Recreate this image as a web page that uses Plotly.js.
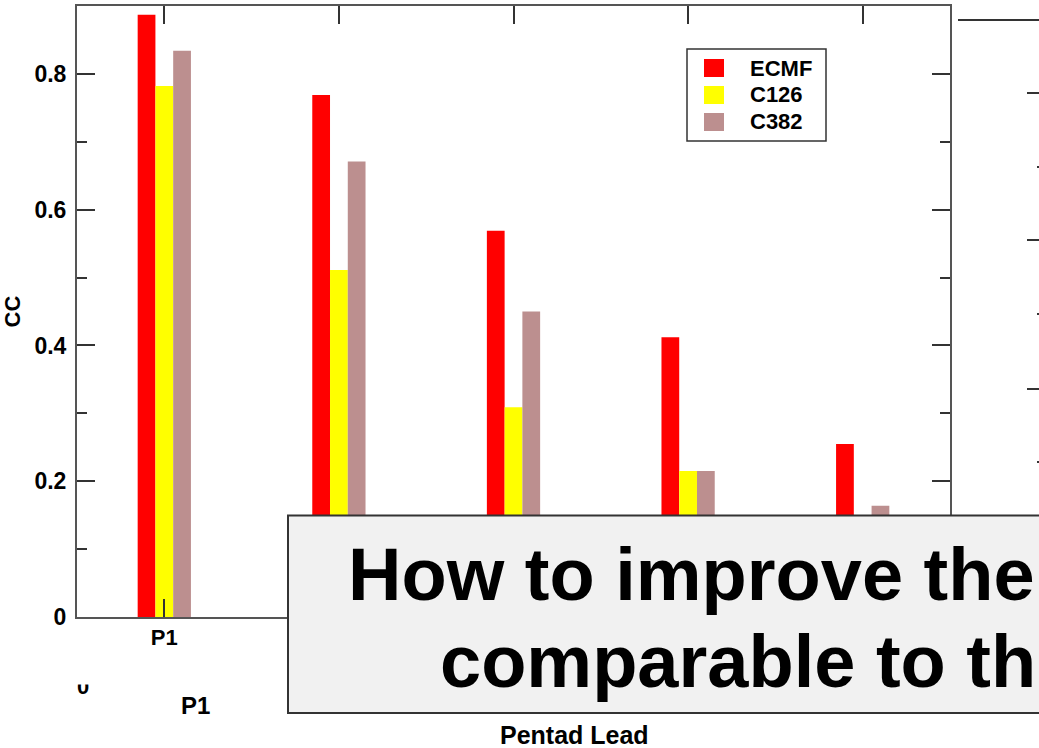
<!DOCTYPE html>
<html>
<head>
<meta charset="utf-8">
<script src="https://cdn.plot.ly/plotly-3.0.1.min.js"></script>
<style>
  html, body { margin: 0; padding: 0; background: #ffffff; }
  #chart { width: 1039px; height: 748px; }
</style>
</head>
<body>
<div id="chart"></div>
<script>
// Correlation coefficient (CC) by pentad lead for three forecast systems
const categories = ['P1', 'P2', 'P3', 'P4', 'P5'];
const ecmf = [0.887, 0.769, 0.569, 0.412, 0.255];
const c126 = [0.782, 0.511, 0.309, 0.215, 0.12];
const c382 = [0.834, 0.671, 0.450, 0.215, 0.164];
const seriesNames = ['ECMF', 'C126', 'C382'];
const seriesValues = [ecmf, c126, c382];
const seriesColors = ['#ff0000', '#ffff00', '#bc8f8f'];
const yTickValues = [0, 0.2, 0.4, 0.6, 0.8];
const yTickLabels = ['0', '0.2', '0.4', '0.6', '0.8'];
// only the first lead label sits outside the caption panel
const xTickLabels = ['P1', '', '', '', ''];
const yTitle = 'CC';
const xTitle = 'Pentad Lead';
const noteLines = ['How to improve the', 'comparable to th'];
const backLabels = ['P1', '0'];

// Plot-area edges in pixels, used to place the overlay pieces in paper units
const W = 1039, H = 748;
const L = 77, R = 950, T = 6, B = 617;
const px = x => (x - L) / (R - L);
const py = y => (B - y) / (B - T);

const FONT = 'Liberation Sans, Arial, Helvetica, sans-serif';
const bold = (size, color) => ({ family: FONT, size: size, color: color || '#000', weight: 'bold' });

const traces = seriesNames.map((name, i) => ({
  type: 'bar',
  name: name,
  x: categories,
  y: seriesValues[i],
  marker: { color: seriesColors[i], line: { width: 0 } },
  showlegend: false,
  hoverinfo: 'x+y+name'
}));

const shapes = [];
const annotations = [];

// Legend panel
shapes.push({
  type: 'rect', xref: 'paper', yref: 'paper', layer: 'above',
  x0: px(687), x1: px(826), y0: py(49), y1: py(141),
  fillcolor: '#ffffff', line: { color: '#333333', width: 1.5 }
});
seriesNames.forEach((name, i) => {
  const yc = 68 + i * 27;
  shapes.push({
    type: 'rect', xref: 'paper', yref: 'paper', layer: 'above',
    x0: px(704), x1: px(724), y0: py(yc - 9), y1: py(yc + 9),
    fillcolor: seriesColors[i], line: { width: 0 }
  });
  annotations.push({
    xref: 'paper', yref: 'paper', x: px(748), y: py(yc),
    xanchor: 'left', yanchor: 'middle', showarrow: false,
    text: name, font: bold(22)
  });
});

// Neighbouring panel on the right: its top frame and left-side ticks
shapes.push({
  type: 'line', xref: 'paper', yref: 'paper', layer: 'above',
  x0: px(958), x1: px(1045), y0: py(20), y1: py(20),
  line: { color: '#333333', width: 2 }
});
[93, 167, 240, 314, 389, 462].forEach((y, i) => {
  shapes.push({
    type: 'line', xref: 'paper', yref: 'paper', layer: 'above',
    x0: px(i % 2 === 0 ? 1027 : 1037), x1: px(1045), y0: py(y), y1: py(y),
    line: { color: '#333333', width: 2 }
  });
});

// Labels from the panel underneath
annotations.push({
  xref: 'paper', yref: 'paper', x: px(83), y: py(686),
  xanchor: 'center', yanchor: 'middle', showarrow: false,
  text: backLabels[1], font: bold(22)
});
annotations.push({
  xref: 'paper', yref: 'paper', x: px(83), y: py(676),
  xanchor: 'center', yanchor: 'middle', showarrow: false,
  text: ' ', width: 24, height: 16, bgcolor: '#ffffff', borderpad: 0
});
annotations.push({
  xref: 'paper', yref: 'paper', x: px(195), y: py(705),
  xanchor: 'center', yanchor: 'middle', showarrow: false,
  text: backLabels[0], font: bold(24)
});
annotations.push({
  xref: 'paper', yref: 'paper', x: px(574), y: py(735),
  xanchor: 'center', yanchor: 'middle', showarrow: false,
  text: xTitle, font: bold(25)
});

// Caption panel over the lower part of the chart
shapes.push({
  type: 'rect', xref: 'paper', yref: 'paper', layer: 'above',
  x0: px(288), x1: px(1060), y0: py(515.5), y1: py(713),
  fillcolor: '#f1f1f1', line: { color: '#333333', width: 2 }
});
annotations.push({
  xref: 'paper', yref: 'paper', x: px(346), y: py(574),
  xanchor: 'left', yanchor: 'middle', showarrow: false,
  text: noteLines[0], font: bold(74)
});
annotations.push({
  xref: 'paper', yref: 'paper', x: px(438), y: py(661),
  xanchor: 'left', yanchor: 'middle', showarrow: false,
  text: noteLines[1], font: bold(74)
});

const axisCommon = {
  showline: true, linecolor: '#555555', linewidth: 2,
  mirror: 'ticks', ticks: 'inside', ticklen: 18, tickwidth: 2, tickcolor: '#333333',
  showgrid: false, zeroline: false
};

const layout = {
  width: W, height: H,
  margin: { l: L, r: W - R, t: T, b: H - B, pad: 0 },
  paper_bgcolor: '#ffffff', plot_bgcolor: '#ffffff',
  barmode: 'group', bargap: 0.695, bargroupgap: 0,
  showlegend: false,
  xaxis: Object.assign({}, axisCommon, {
    type: 'category', range: [-0.5, 4.5], fixedrange: true,
    tickmode: 'array', tickvals: categories, ticktext: xTickLabels,
    tickfont: bold(22)
  }),
  yaxis: Object.assign({}, axisCommon, {
    range: [0, 0.9], fixedrange: true,
    tickmode: 'array', tickvals: yTickValues, ticktext: yTickLabels,
    tickfont: bold(23), ticklabelstandoff: 4,
    minor: { dtick: 0.1, tick0: 0, ticks: 'inside', ticklen: 10, tickwidth: 2, tickcolor: '#333333' },
    title: { text: yTitle, font: bold(22), standoff: 8 }
  }),
  shapes: shapes,
  annotations: annotations
};

Plotly.newPlot('chart', traces, layout, { displayModeBar: false, responsive: false });
</script>
</body>
</html>
